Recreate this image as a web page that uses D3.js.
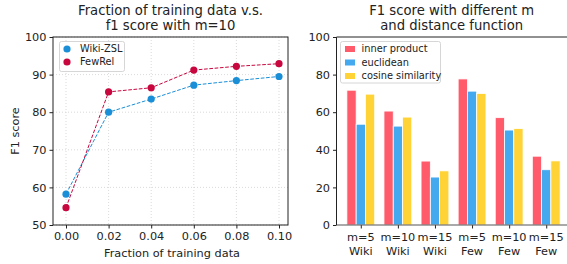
<!DOCTYPE html>
<html>
<head>
<meta charset="utf-8">
<script src="https://cdn.jsdelivr.net/npm/d3@7"></script>
<style>
  body { margin: 0; background: #fff; }
  svg text { font-family: "DejaVu Sans", sans-serif; fill: #222; }
</style>
</head>
<body>
<div id="chart"></div>
<script>
// line chart data
const fractions = [0.00, 0.02, 0.04, 0.06, 0.08, 0.10];
const wikiZsl = [58.2, 80.0, 83.5, 87.2, 88.4, 89.5];
const fewRel = [54.6, 85.4, 86.5, 91.2, 92.2, 92.9];
const fracTicks = ["0.00", "0.02", "0.04", "0.06", "0.08", "0.10"];

// bar chart data
const groupsTop = ["m=5", "m=10", "m=15", "m=5", "m=10", "m=15"];
const groupsBottom = ["Wiki", "Wiki", "Wiki", "Few", "Few", "Few"];
const innerProduct = [71.7, 60.6, 34.0, 77.7, 57.1, 36.6];
const euclidean = [53.6, 52.6, 25.5, 71.2, 50.5, 29.4];
const cosineSim = [69.6, 57.4, 28.8, 70.0, 51.3, 34.1];
const distNames = ["inner product", "euclidean", "cosine similarity"];

const width = 567, height = 264;
const svg = d3.select("#chart").append("svg")
    .attr("width", width).attr("height", height);

const fontSize = 11.3;

// ---------- left: line chart ----------
const L = { left: 53, right: 288, top: 37, bottom: 225 };
const x1 = d3.scaleLinear().domain([0, 0.1]).range([66, 279]);
const y1 = d3.scaleLinear().domain([50, 100]).range([L.bottom, L.top]);

const left = svg.append("g");

// grid
left.selectAll(".gx").data(fractions).enter().append("line")
    .attr("x1", d => x1(d)).attr("x2", d => x1(d))
    .attr("y1", L.top).attr("y2", L.bottom)
    .attr("stroke", "#d0d0d0").attr("stroke-width", 0.8)
    .attr("stroke-dasharray", "1,2");
left.selectAll(".gy").data(y1.ticks(5)).enter().append("line")
    .attr("x1", L.left).attr("x2", L.right)
    .attr("y1", d => y1(d)).attr("y2", d => y1(d))
    .attr("stroke", "#d0d0d0").attr("stroke-width", 0.8)
    .attr("stroke-dasharray", "1,2");

// axes
const xAxis1 = d3.axisBottom(x1).tickValues(fractions)
    .tickFormat((d, i) => fracTicks[i]).tickSize(3.5).tickPadding(3);
const gx1 = left.append("g").attr("transform", `translate(0,${L.bottom})`).call(xAxis1);
gx1.select(".domain").remove();
gx1.selectAll("text").attr("font-size", fontSize).attr("dy", "0.75em");
gx1.selectAll("line").attr("stroke", "#222");

const yAxis1 = d3.axisLeft(y1).ticks(5).tickSize(3.5).tickPadding(3);
const gy1 = left.append("g").attr("transform", `translate(${L.left},0)`).call(yAxis1);
gy1.select(".domain").remove();
gy1.selectAll("text").attr("font-size", fontSize);
gy1.selectAll("line").attr("stroke", "#222");

// frame
left.append("rect")
    .attr("x", L.left).attr("y", L.top)
    .attr("width", L.right - L.left).attr("height", L.bottom - L.top)
    .attr("fill", "none").attr("stroke", "#222").attr("stroke-width", 1);

const series = [
    { name: "Wiki-ZSL", values: wikiZsl, color: "#1a8fd8" },
    { name: "FewRel", values: fewRel, color: "#c8073f" }
];

const line = d3.line().x((d, i) => x1(fractions[i])).y(d => y1(d));
series.forEach(s => {
    left.append("path").datum(s.values)
        .attr("d", line)
        .attr("fill", "none").attr("stroke", s.color)
        .attr("stroke-width", 1).attr("stroke-dasharray", "3.7,1.6");
    left.selectAll(null).data(s.values).enter().append("circle")
        .attr("cx", (d, i) => x1(fractions[i])).attr("cy", d => y1(d))
        .attr("r", 3.6).attr("fill", s.color);
});

// legend
const leg1 = left.append("g");
leg1.append("rect").attr("x", 59.5).attr("y", 41.5).attr("width", 65).attr("height", 30)
    .attr("rx", 2).attr("fill", "#fff").attr("fill-opacity", 0.85)
    .attr("stroke", "#ccc").attr("stroke-width", 0.8);
series.forEach((s, i) => {
    const cy = 49 + i * 13;
    leg1.append("circle").attr("cx", 67).attr("cy", cy).attr("r", 3.6).attr("fill", s.color);
    leg1.append("text").attr("x", 80).attr("y", cy).attr("dy", "0.35em")
        .attr("font-size", 9.8).text(s.name);
});

// titles and labels
left.append("text").attr("x", 170.5).attr("y", 15).attr("text-anchor", "middle")
    .attr("font-size", 13.2).text("Fraction of training data v.s.");
left.append("text").attr("x", 170.5).attr("y", 30).attr("text-anchor", "middle")
    .attr("font-size", 13.2).text("f1 score with m=10");
left.append("text").attr("x", 172).attr("y", 257).attr("text-anchor", "middle")
    .attr("font-size", fontSize).text("Fraction of training data");
left.append("text").attr("transform", `translate(19,${(L.top + L.bottom) / 2}) rotate(-90)`)
    .attr("text-anchor", "middle").attr("font-size", fontSize).text("F1 score");

// ---------- right: bar chart ----------
const R = { left: 336.5, right: 567, top: 37, bottom: 225 };
const idx = d3.range(groupsTop.length);
const x2 = d3.scaleLinear().domain([-0.655, 5.56]).range([R.left, R.right]);
const y2 = d3.scaleLinear().domain([0, 100]).range([R.bottom, R.top]);
const barW = 0.25;

const right = svg.append("g");
const barSeries = [
    { name: distNames[0], values: innerProduct, color: "#ff5b6a", off: -1 },
    { name: distNames[1], values: euclidean, color: "#45a9ef", off: 0 },
    { name: distNames[2], values: cosineSim, color: "#ffd335", off: 1 }
];

barSeries.forEach(s => {
    right.selectAll(null).data(s.values).enter().append("rect")
        .attr("x", (d, i) => x2(i + s.off * barW - barW / 2))
        .attr("width", x2(barW) - x2(0))
        .attr("y", d => y2(d))
        .attr("height", d => y2(0) - y2(d))
        .attr("fill", s.color).attr("stroke", "#fff").attr("stroke-width", 0.8);
});

const xAxis2 = d3.axisBottom(x2).tickValues(idx).tickFormat("").tickSize(3.5);
const gx2 = right.append("g").attr("transform", `translate(0,${R.bottom})`).call(xAxis2);
gx2.select(".domain").remove();
gx2.selectAll("line").attr("stroke", "#222");
idx.forEach(i => {
    right.append("text").attr("x", x2(i)).attr("y", 241).attr("text-anchor", "middle")
        .attr("font-size", fontSize).text(groupsTop[i]);
    right.append("text").attr("x", x2(i)).attr("y", 255).attr("text-anchor", "middle")
        .attr("font-size", fontSize).text(groupsBottom[i]);
});

const yAxis2 = d3.axisLeft(y2).ticks(5).tickSize(3.5).tickPadding(3);
const gy2 = right.append("g").attr("transform", `translate(${R.left},0)`).call(yAxis2);
gy2.select(".domain").remove();
gy2.selectAll("text").attr("font-size", fontSize);
gy2.selectAll("line").attr("stroke", "#222");

right.append("line").attr("x1", R.left).attr("x2", R.right).attr("y1", R.top).attr("y2", R.top)
    .attr("stroke", "#222");
right.append("line").attr("x1", R.left).attr("x2", R.right).attr("y1", R.bottom).attr("y2", R.bottom)
    .attr("stroke", "#555");
right.append("line").attr("x1", R.left).attr("x2", R.left).attr("y1", R.top).attr("y2", R.bottom)
    .attr("stroke", "#222");

// legend
const leg2 = right.append("g");
leg2.append("rect").attr("x", 340.5).attr("y", 41.5).attr("width", 100).attr("height", 41.5)
    .attr("rx", 2).attr("fill", "#fff").attr("fill-opacity", 0.85)
    .attr("stroke", "#ccc").attr("stroke-width", 0.8);
barSeries.forEach((s, i) => {
    const cy = 49 + i * 13.5;
    leg2.append("rect").attr("x", 345).attr("y", cy - 3).attr("width", 10).attr("height", 6)
        .attr("fill", s.color);
    leg2.append("text").attr("x", 361.5).attr("y", cy).attr("dy", "0.35em")
        .attr("font-size", 9.8).text(s.name);
});

right.append("text").attr("x", 451.7).attr("y", 15).attr("text-anchor", "middle")
    .attr("font-size", 13.2).text("F1 score with different m");
right.append("text").attr("x", 451.7).attr("y", 30).attr("text-anchor", "middle")
    .attr("font-size", 13.2).text("and distance function");
</script>
</body>
</html>
